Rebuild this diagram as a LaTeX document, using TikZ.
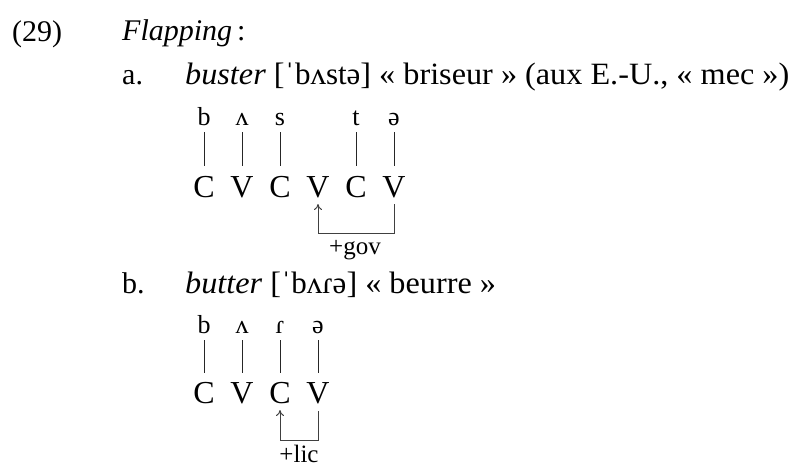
\documentclass[tikz,border=0pt]{standalone}
\usepackage{fontspec}
\setmainfont{Liberation Serif}
\newfontfamily\ipafont{Liberation Serif}
\newfontfamily\exfont[FakeStretch=1.04]{Liberation Serif}
\usetikzlibrary{arrows.meta,calc}
\tikzset{
  txt/.style={anchor=base west,inner sep=0pt,font=\fontsize{30}{34}\selectfont},
  extxt/.style={anchor=base west,inner sep=0pt,font=\fontsize{31}{35}\exfont},
  ipa/.style={anchor=base,inner sep=0pt,font=\fontsize{26}{30}\ipafont},
  cv/.style={anchor=base,inner sep=0pt,font=\fontsize{32}{36}\selectfont},
  lbl/.style={anchor=base,inner sep=0pt,font=\fontsize{25}{29}\selectfont},
  assoc/.style={line width=0.8pt,black!85},
  rel/.style={line width=1pt,black!75,-{To[length=6pt,width=8pt]}}
}
\begin{document}
\begin{tikzpicture}[x=1pt,y=-1pt]
\useasboundingbox (0,0) rectangle (804,466);
% heading
\node[txt] (num) at (12,41) {(29)};
\node[txt] (head) at (122,40) {\textit{Flapping}\,:};
% a.
\node[txt] (la) at (122,84) {a.};
\node[extxt] (exa) at (185,84) {\textit{buster} [{\ipafont ˈbʌstə}] «~briseur~» (aux E.-U., «~mec~»)};
\node[ipa] (ia1) at (204,125) {b};
\node[ipa] (ia2) at (242,125) {ʌ};
\node[ipa] (ia3) at (280,125) {s};
\node[ipa] (ia5) at (356,125) {t};
\node[ipa] (ia6) at (394,125) {ə};
\node[cv] (ca1) at (204,197) {C};
\node[cv] (ca2) at (242,197) {V};
\node[cv] (ca3) at (280,197) {C};
\node[cv] (ca4) at (318,197) {V};
\node[cv] (ca5) at (356,197) {C};
\node[cv] (ca6) at (394,197) {V};
\foreach \i in {1,2,3,5,6}
  \draw[assoc] ([yshift=-7pt]ia\i.base) -- ([yshift=31pt]ca\i.base);
\draw[rel] ([yshift=-7pt]ca6.base) -- ++(0,29) -| ([yshift=-7pt]ca4.base);
\node[lbl] (gov) at (355,254) {+gov};
% b.
\node[txt] (lb) at (122,293) {b.};
\node[extxt] (exb) at (185,293) {\textit{butter} [{\ipafont ˈbʌɾə}] «~beurre~»};
\node[ipa] (ib1) at (204,333) {b};
\node[ipa] (ib2) at (242,333) {ʌ};
\node[ipa] (ib3) at (280,333) {ɾ};
\node[ipa] (ib4) at (318,333) {ə};
\node[cv] (cb1) at (204,403) {C};
\node[cv] (cb2) at (242,403) {V};
\node[cv] (cb3) at (280,403) {C};
\node[cv] (cb4) at (318,403) {V};
\foreach \i in {1,2,3,4}
  \draw[assoc] ([yshift=-7pt]ib\i.base) -- ([yshift=30pt]cb\i.base);
\draw[rel] ([yshift=-8pt]cb4.base) -- ++(0,29) -| ([yshift=-7pt]cb3.base);
\node[lbl] (lic) at (299,462) {+lic};
\end{tikzpicture}
\end{document}
